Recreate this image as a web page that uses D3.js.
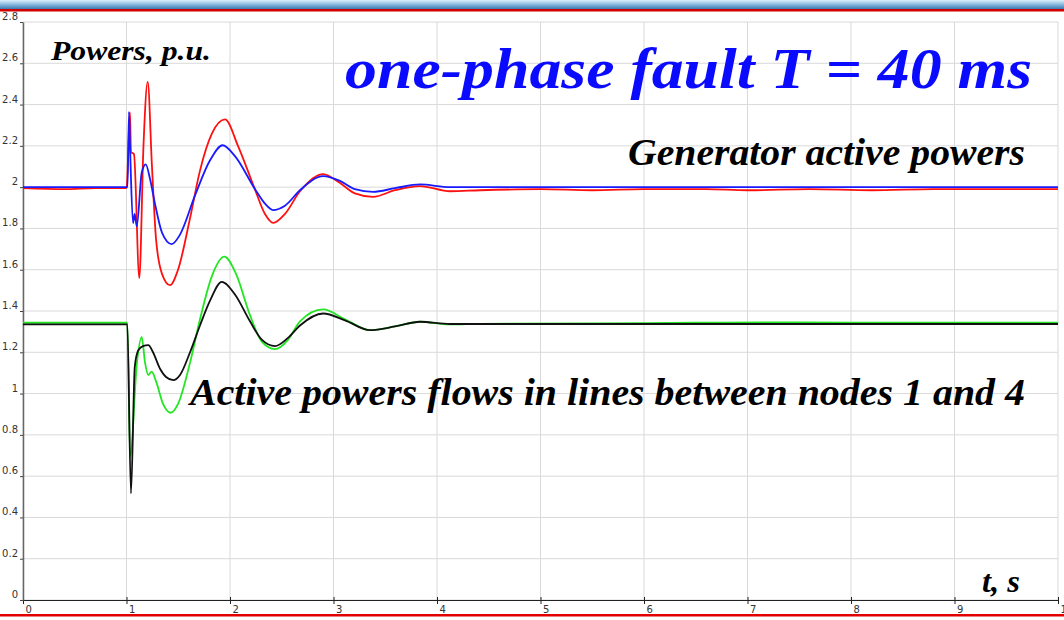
<!DOCTYPE html>
<html>
<head>
<meta charset="utf-8">
<script src="https://cdn.jsdelivr.net/npm/d3@7"></script>
<style>
  body { margin: 0; background: #fff; }
  svg { display: block; }
</style>
</head>
<body>
<div id="chart"></div>
<script>
// generator active powers, [t, p.u.]
var genRed = [
  [0, 1.995], [0.4, 1.99], [0.7, 1.995], [1.0, 1.995], [1.034, 2.36], [1.043, 2.17],
  [1.072, 2.16], [1.124, 1.56], [1.164, 2.2], [1.205, 2.51], [1.246, 2.1],
  [1.285, 1.75], [1.343, 1.58], [1.42, 1.525], [1.498, 1.6], [1.614, 1.85],
  [1.71, 2.08], [1.826, 2.26], [1.952, 2.328], [2.077, 2.2], [2.24, 1.99],
  [2.338, 1.87], [2.418, 1.827], [2.531, 1.87], [2.676, 1.98], [2.9, 2.063],
  [3.063, 2.02], [3.207, 1.97], [3.382, 1.953], [3.594, 1.985], [3.836, 2.005],
  [4.126, 1.98], [4.415, 1.985], [5.0, 1.99], [5.5, 1.985], [6.0, 1.99],
  [6.6, 1.99], [7.0, 1.985], [7.6, 1.99], [8.2, 1.985], [8.8, 1.99], [9.4, 1.99], [10, 1.99]
];
var genBlue = [
  [0, 2.0], [1.01, 2.0], [1.024, 2.365], [1.034, 2.2], [1.063, 1.826], [1.079, 1.87],
  [1.099, 1.81], [1.147, 2.07], [1.186, 2.11], [1.227, 2.04], [1.275, 1.92],
  [1.343, 1.78], [1.437, 1.724], [1.517, 1.77], [1.662, 1.96], [1.807, 2.13],
  [1.929, 2.203], [2.048, 2.15], [2.242, 1.99], [2.338, 1.92], [2.415, 1.889],
  [2.531, 1.91], [2.676, 1.985], [2.9, 2.053], [3.063, 2.03], [3.207, 1.99],
  [3.382, 1.977], [3.594, 1.995], [3.836, 2.013], [4.126, 2.0], [10, 2.0]
];
// active power flows in lines between nodes 1 and 4
var lineGreen = [
  [0, 1.343], [1.008, 1.343], [1.035, 0.694], [1.101, 1.15], [1.147, 1.275],
  [1.179, 1.15], [1.211, 1.09], [1.243, 1.106], [1.285, 1.06], [1.353, 0.95],
  [1.427, 0.907], [1.498, 0.95], [1.614, 1.15], [1.71, 1.36], [1.826, 1.57],
  [1.945, 1.663], [2.058, 1.58], [2.193, 1.38], [2.309, 1.25], [2.435, 1.215],
  [2.56, 1.26], [2.676, 1.35], [2.9, 1.408], [3.111, 1.36], [3.353, 1.307],
  [3.594, 1.325], [3.836, 1.348], [4.126, 1.335], [4.415, 1.338], [5.5, 1.34],
  [6.5, 1.343], [7.5, 1.345], [8.5, 1.343], [10, 1.343]
];
var lineBlack = [
  [0, 1.335], [1.008, 1.335], [1.043, 0.517], [1.08, 1.13], [1.114, 1.21],
  [1.159, 1.23], [1.211, 1.235], [1.256, 1.2], [1.324, 1.12], [1.382, 1.08],
  [1.452, 1.065], [1.517, 1.09], [1.614, 1.2], [1.71, 1.33], [1.807, 1.45],
  [1.92, 1.541], [2.048, 1.48], [2.193, 1.35], [2.309, 1.26], [2.435, 1.23],
  [2.56, 1.27], [2.676, 1.33], [2.9, 1.388], [3.111, 1.355], [3.353, 1.307],
  [3.594, 1.325], [3.836, 1.348], [4.126, 1.337], [10, 1.337]
];

var xTicks = [0, 1, 2, 3, 4, 5, 6, 7, 8, 9, 10];
var yTicks = [0, 0.2, 0.4, 0.6, 0.8, 1, 1.2, 1.4, 1.6, 1.8, 2, 2.2, 2.4, 2.6, 2.8];

var W = 1064, H = 620;
var margin = { top: 22, right: 6, bottom: 20, left: 23 },
  width = W - margin.left - margin.right,
  height = H - margin.top - margin.bottom;

var svg = d3.select("#chart").append("svg")
  .attr("width", W).attr("height", H);

// window frame: blue bar + red lines
var grad = svg.append("defs").append("linearGradient")
  .attr("id", "bar").attr("x1", 0).attr("y1", 0).attr("x2", 0).attr("y2", 1);
grad.append("stop").attr("offset", "0%").attr("stop-color", "#dff0fb");
grad.append("stop").attr("offset", "45%").attr("stop-color", "#8fbfe0");
grad.append("stop").attr("offset", "100%").attr("stop-color", "#3b78b0");
svg.append("rect").attr("x", 0).attr("y", 0).attr("width", W).attr("height", 9).attr("fill", "url(#bar)");
svg.append("rect").attr("x", 0).attr("y", 9).attr("width", W).attr("height", 2.5).attr("fill", "#d00000");
svg.append("rect").attr("x", 0).attr("y", 614).attr("width", W).attr("height", 2.5).attr("fill", "#e00000");

var g = svg.append("g")
  .attr("transform", "translate(" + margin.left + "," + margin.top + ")");

var x = d3.scaleLinear().domain([0, 10]).range([0, width]);
var y = d3.scaleLinear().domain([0, 2.8]).range([height, 0]);

// grid
g.append("g").selectAll("line").data(yTicks).enter().append("line")
  .attr("x1", 0).attr("x2", width)
  .attr("y1", function (d) { return y(d); }).attr("y2", function (d) { return y(d); })
  .attr("stroke", "#d9d9d9").attr("stroke-width", 1);
g.append("g").selectAll("line").data(xTicks).enter().append("line")
  .attr("y1", 0).attr("y2", height)
  .attr("x1", function (d) { return x(d); }).attr("x2", function (d) { return x(d); })
  .attr("stroke", "#d9d9d9").attr("stroke-width", 1);

// axes
var xAxis = g.append("g")
  .attr("transform", "translate(0," + height + ")")
  .call(d3.axisBottom(x).tickValues(xTicks).tickSizeInner(4).tickSizeOuter(0).tickFormat(d3.format("d")));
xAxis.select(".domain").attr("stroke", "#222");
xAxis.selectAll(".tick line").attr("y1", -3).attr("stroke", "#222");
xAxis.selectAll(".tick text")
  .attr("text-anchor", "start").attr("dx", 2).attr("y", 6)
  .style("font-family", "DejaVu Sans, Verdana, sans-serif").style("font-size", "10px").attr("fill", "#333");

var yAxis = g.append("g")
  .call(d3.axisLeft(y).tickValues(yTicks).tickSizeInner(3).tickSizeOuter(0).tickFormat(d3.format("~g")));
yAxis.select(".domain").attr("stroke", "#666").attr("stroke-width", 1.5);
yAxis.selectAll(".tick line").attr("stroke", "#444");
yAxis.selectAll(".tick text")
  .attr("x", -5).attr("dy", "-0.25em")
  .style("font-family", "DejaVu Sans, Verdana, sans-serif").style("font-size", "10px").attr("fill", "#333");

// curves
var line = d3.line()
  .curve(d3.curveMonotoneX)
  .x(function (d) { return x(d[0]); })
  .y(function (d) { return y(d[1]); });

var series = [
  { data: genRed, color: "#ff1010" },
  { data: genBlue, color: "#1a1aff" },
  { data: lineGreen, color: "#22e622" },
  { data: lineBlack, color: "#111111" }
];
g.selectAll("path.curve").data(series).enter().append("path")
  .attr("class", "curve")
  .attr("d", function (d) { return line(d.data); })
  .attr("fill", "none")
  .attr("stroke", function (d) { return d.color; })
  .attr("stroke-width", 1.8)
  .attr("stroke-linejoin", "round");

// labels
var serif = "Liberation Serif, Times New Roman, serif";
function label(txt, px, py, size, color, len) {
  svg.append("text").text(txt)
    .attr("x", px).attr("y", py)
    .attr("textLength", len).attr("lengthAdjust", "spacingAndGlyphs")
    .style("font-family", serif).style("font-weight", "bold").style("font-style", "italic")
    .style("font-size", size + "px").attr("fill", color);
}
label("Powers, p.u.", 51, 60, 28, "#000", 160);
label("one-phase fault T = 40 ms", 345, 88, 56, "#0a0aff", 687);
label("Generator active powers", 628, 165, 37, "#000", 397);
label("Active powers flows in lines between nodes 1 and 4", 190, 405, 38, "#000", 835);
label("t, s", 982, 592, 31, "#000", 38);
</script>
</body>
</html>
